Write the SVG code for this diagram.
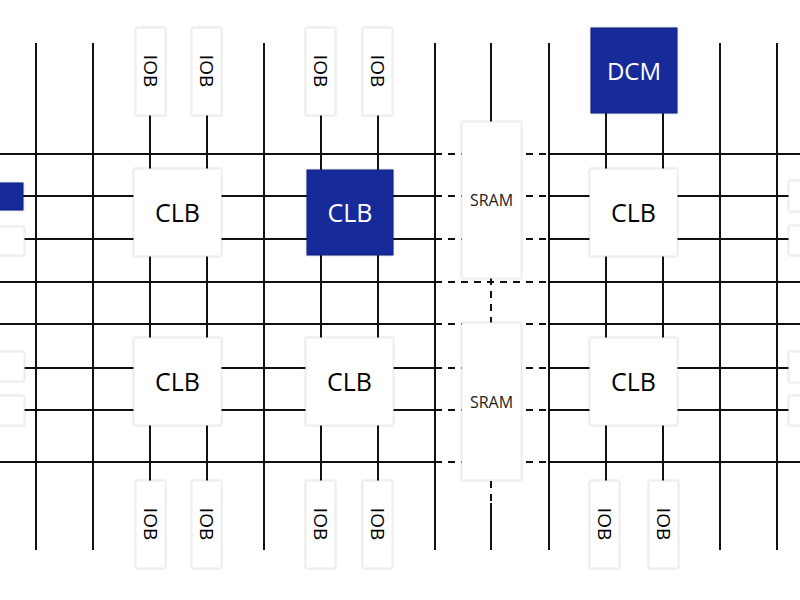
<svg xmlns="http://www.w3.org/2000/svg" width="800" height="600" viewBox="0 0 800 600">
<defs>
<filter id="sh" x="-20%" y="-20%" width="140%" height="140%">
<feDropShadow dx="0" dy="0" stdDeviation="1.3" flood-color="#000" flood-opacity="0.22"/>
</filter>
<style>
.ln{stroke:#111;stroke-width:2;fill:none}
.ds{stroke:#111;stroke-width:2;fill:none;stroke-dasharray:7 6}
.wb{fill:#fff;stroke:#ececec;stroke-width:1;filter:url(#sh)}
.bb{fill:#12299a;stroke:#0f2280;stroke-width:1;filter:url(#sh)}
.t{font-family:"Open Sans","Noto Sans",sans-serif;text-anchor:middle;dominant-baseline:central;fill:#000}
.clb{font-size:25px}
.dcm{font-size:24px}
.w{fill:#fff}
.iob{font-size:19px}
.sr{font-size:16px;fill:#222}
</style>
</defs>
<rect width="800" height="600" fill="#fff"/>
<g id="connectors">
<path class="ln" d="M36 43V550M93 43V550M264 43V550M435 43V550M549 43V550M720 43V550M777 43V550"/>
<path class="ln" d="M150 115V481M207 115V481M321 115V481M378 115V481M606 113V481M663 113V481"/>
<path class="ln" d="M0 154H435M549 154H800M0 282H435M549 282H800M0 324H435M549 324H800M0 462H435M549 462H800"/>
<path class="ln" d="M23 196H435M549 196H789M23 239H435M549 239H789M23 368H435M549 368H789M23 410H435M549 410H789"/>
<path class="ds" d="M435 154H549M435 196H549M435 239H549M435 282H549M435 324H549M435 368H549M435 410H549M435 462H549"/>
<path class="ln" d="M491 43V122M491 503V550"/>
<path class="ds" d="M491 278V323M491 481V503"/>
</g>
<g id="iob-t1"><rect class="wb" x="136" y="28" width="29" height="87"/><text class="t iob" transform="translate(150.5 71) rotate(90)">IOB</text></g>
<g id="iob-t2"><rect class="wb" x="192" y="28" width="29" height="87"/><text class="t iob" transform="translate(206.5 71) rotate(90)">IOB</text></g>
<g id="iob-t3"><rect class="wb" x="306" y="28" width="29" height="87"/><text class="t iob" transform="translate(320.5 71) rotate(90)">IOB</text></g>
<g id="iob-t4"><rect class="wb" x="363" y="28" width="29" height="87"/><text class="t iob" transform="translate(377.5 71) rotate(90)">IOB</text></g>
<g id="dcm"><rect class="bb" x="591" y="28" width="86" height="85"/><text class="t dcm w" x="634" y="70">DCM</text></g>
<g id="clb-1"><rect class="wb" x="134" y="169" width="87" height="87"/><text class="t clb" x="177.5" y="212">CLB</text></g>
<g id="clb-2"><rect class="bb" x="307" y="170" width="86" height="85"/><text class="t clb w" x="350" y="212">CLB</text></g>
<g id="clb-3"><rect class="wb" x="590" y="169" width="87" height="87"/><text class="t clb" x="633.5" y="212">CLB</text></g>
<g id="clb-4"><rect class="wb" x="134" y="338" width="87" height="87"/><text class="t clb" x="177.5" y="381">CLB</text></g>
<g id="clb-5"><rect class="wb" x="306" y="338" width="87" height="87"/><text class="t clb" x="349.5" y="381">CLB</text></g>
<g id="clb-6"><rect class="wb" x="590" y="338" width="87" height="87"/><text class="t clb" x="633.5" y="381">CLB</text></g>
<g id="sram-1"><rect class="wb" x="462" y="122" width="59" height="156"/><text class="t sr" x="491.5" y="200">SRAM</text></g>
<g id="sram-2"><rect class="wb" x="462" y="323" width="59" height="157"/><text class="t sr" x="491.5" y="402">SRAM</text></g>
<g id="iob-b1"><rect class="wb" x="136" y="481" width="29" height="87"/><text class="t iob" transform="translate(150.5 524) rotate(90)">IOB</text></g>
<g id="iob-b2"><rect class="wb" x="192" y="481" width="29" height="87"/><text class="t iob" transform="translate(206.5 524) rotate(90)">IOB</text></g>
<g id="iob-b3"><rect class="wb" x="306" y="481" width="29" height="87"/><text class="t iob" transform="translate(320.5 524) rotate(90)">IOB</text></g>
<g id="iob-b4"><rect class="wb" x="363" y="481" width="29" height="87"/><text class="t iob" transform="translate(377.5 524) rotate(90)">IOB</text></g>
<g id="iob-b5"><rect class="wb" x="590" y="481" width="29" height="87"/><text class="t iob" transform="translate(604.5 524) rotate(90)">IOB</text></g>
<g id="iob-b6"><rect class="wb" x="649" y="481" width="29" height="87"/><text class="t iob" transform="translate(663.5 524) rotate(90)">IOB</text></g>
<g id="edge-l1"><rect class="bb" x="-10" y="183" width="33" height="27"/></g>
<g id="edge-l2"><rect class="wb" x="-10" y="227" width="34" height="28"/></g>
<g id="edge-l3"><rect class="wb" x="-10" y="352" width="34" height="29"/></g>
<g id="edge-l4"><rect class="wb" x="-10" y="396" width="34" height="29"/></g>
<g id="edge-r1"><rect class="wb" x="789" y="181" width="20" height="30"/></g>
<g id="edge-r2"><rect class="wb" x="789" y="226" width="20" height="29"/></g>
<g id="edge-r3"><rect class="wb" x="789" y="352" width="20" height="30"/></g>
<g id="edge-r4"><rect class="wb" x="789" y="396" width="20" height="29"/></g>
</svg>
